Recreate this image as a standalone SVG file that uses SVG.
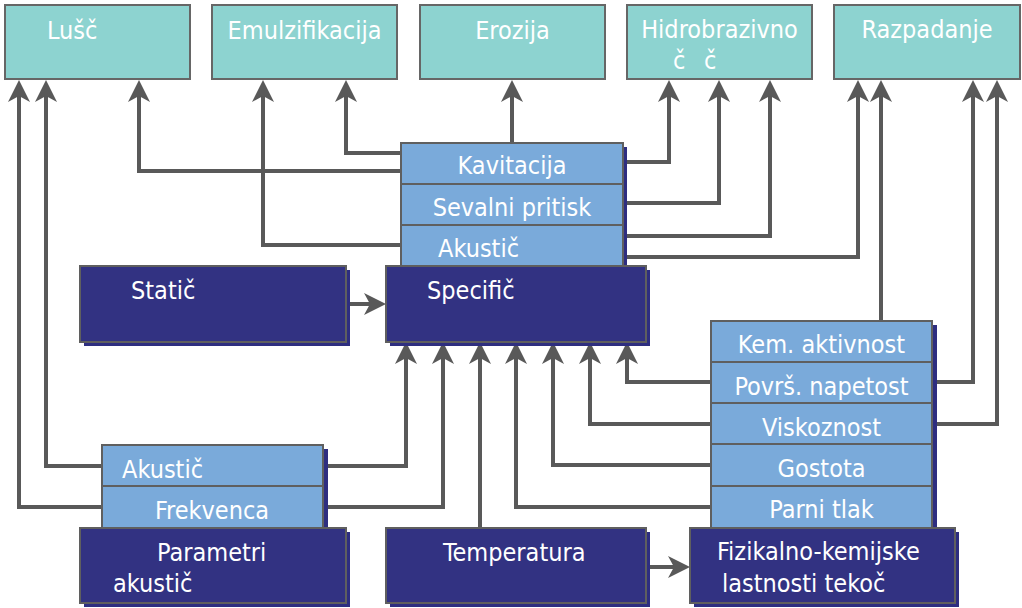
<svg xmlns="http://www.w3.org/2000/svg" width="1022" height="608" viewBox="0 0 1022 608">
<style>
.top{fill:#8dd3d0;stroke:#666;stroke-width:2}
.row{fill:#7aaada;stroke:#5f5f5f;stroke-width:2}
.nav{fill:#323282;stroke:#5f5f5f;stroke-width:2}
.sh{fill:#2e2e80}
.t{font-family:"DejaVu Sans Condensed","DejaVu Sans",sans-serif;font-stretch:condensed;font-size:25px;fill:#fff}
.c{text-anchor:middle}
.ln{fill:none;stroke:#595959;stroke-width:4;marker-end:url(#ah)}
</style>
<defs>
<marker id="ah" viewBox="0 0 22 22" refX="18" refY="11" markerWidth="22" markerHeight="22" markerUnits="userSpaceOnUse" orient="auto">
<path d="M22,11 L0,0 L6,11 L0,22 Z" fill="#595959"/>
</marker>
</defs>
<rect width="1022" height="608" fill="#fff"/>

<g id="connectors">
<path class="ln" d="M102,507 H19 V84"/>
<path class="ln" d="M102,466 H46 V84"/>
<path class="ln" d="M401,171 H139 V84"/>
<path class="ln" d="M401,245 H263 V84"/>
<path class="ln" d="M401,153 H346 V84"/>
<path class="ln" d="M512,143 V84"/>
<path class="ln" d="M623,162 H669 V84"/>
<path class="ln" d="M623,203 H719 V84"/>
<path class="ln" d="M623,236 H770 V84"/>
<path class="ln" d="M623,257 H858 V84"/>
<path class="ln" d="M881,321 V84"/>
<path class="ln" d="M932,382 H973 V84"/>
<path class="ln" d="M932,424 H997 V84"/>
<path class="ln" d="M323,466 H406 V346"/>
<path class="ln" d="M323,507 H443 V346"/>
<path class="ln" d="M480,528 V346"/>
<path class="ln" d="M711,507 H516 V346"/>
<path class="ln" d="M711,465 H553 V346"/>
<path class="ln" d="M711,424 H590 V346"/>
<path class="ln" d="M711,382 H627 V346"/>
<path class="ln" d="M346,304 H382"/>
<path class="ln" d="M646,567 H686"/>
</g>

<g id="lusc"><rect class="top" x="5" y="5" width="185" height="74"/><text class="t" x="47" y="39">Lušč</text></g>
<g id="emulz"><rect class="top" x="212" y="5" width="185" height="74"/><text class="t c" x="304.5" y="39">Emulzifikacija</text></g>
<g id="erozija"><rect class="top" x="420" y="5" width="185" height="74"/><text class="t c" x="512.5" y="39">Erozija</text></g>
<g id="hidro"><rect class="top" x="627" y="5" width="185" height="74"/><text class="t c" x="719.5" y="38">Hidrobrazivno</text><text class="t" y="69"><tspan x="673">č</tspan><tspan x="704">č</tspan></text></g>
<g id="razpadanje"><rect class="top" x="834" y="5" width="186" height="74"/><text class="t c" x="927" y="38">Razpadanje</text></g>

<g id="mid-stack">
<rect class="sh" x="405" y="147" width="222" height="123"/>
<rect class="row" x="401" y="143" width="222" height="41"/>
<rect class="row" x="401" y="184" width="222" height="41"/>
<rect class="row" x="401" y="225" width="222" height="41"/>
<text class="t c" x="512" y="174">Kavitacija</text>
<text class="t c" x="512" y="216">Sevalni pritisk</text>
<text class="t" x="438" y="257">Akustič</text>
</g>

<g id="static"><rect class="sh" x="84" y="270" width="266" height="76"/><rect class="nav" x="80" y="266" width="266" height="76"/><text class="t" x="131" y="299">Statič</text></g>
<g id="specific"><rect class="sh" x="390" y="270" width="260" height="76"/><rect class="nav" x="386" y="266" width="260" height="76"/><text class="t" x="427" y="299">Specifič</text></g>

<g id="left-stack">
<rect class="sh" x="106" y="449" width="222" height="82"/>
<rect class="row" x="102" y="445" width="221" height="41"/>
<rect class="row" x="102" y="486" width="221" height="42"/>
<text class="t" x="122" y="478">Akustič</text>
<text class="t c" x="212" y="519">Frekvenca</text>
</g>

<g id="right-stack">
<rect class="sh" x="715" y="325" width="222" height="206"/>
<rect class="row" x="711" y="321" width="221" height="41"/>
<rect class="row" x="711" y="362" width="221" height="41"/>
<rect class="row" x="711" y="403" width="221" height="41"/>
<rect class="row" x="711" y="444" width="221" height="42"/>
<rect class="row" x="711" y="486" width="221" height="42"/>
<text class="t c" x="821.5" y="353">Kem. aktivnost</text>
<text class="t c" x="821.5" y="395">Površ. napetost</text>
<text class="t c" x="821.5" y="436">Viskoznost</text>
<text class="t c" x="821.5" y="477">Gostota</text>
<text class="t c" x="821.5" y="518">Parni tlak</text>
</g>

<g id="parametri"><rect class="sh" x="84" y="532" width="266" height="75"/><rect class="nav" x="80" y="528" width="266" height="75"/><text class="t" x="157" y="561">Parametri</text><text class="t" x="113" y="592">akustič</text></g>
<g id="temperatura"><rect class="sh" x="390" y="532" width="260" height="75"/><rect class="nav" x="386" y="528" width="260" height="75"/><text class="t" x="443" y="561">Temperatura</text></g>
<g id="fizikalno"><rect class="sh" x="694" y="532" width="265" height="75"/><rect class="nav" x="690" y="528" width="265" height="75"/><text class="t" x="717" y="560">Fizikalno-kemijske</text><text class="t" x="722" y="592">lastnosti tekoč</text></g>
</svg>
